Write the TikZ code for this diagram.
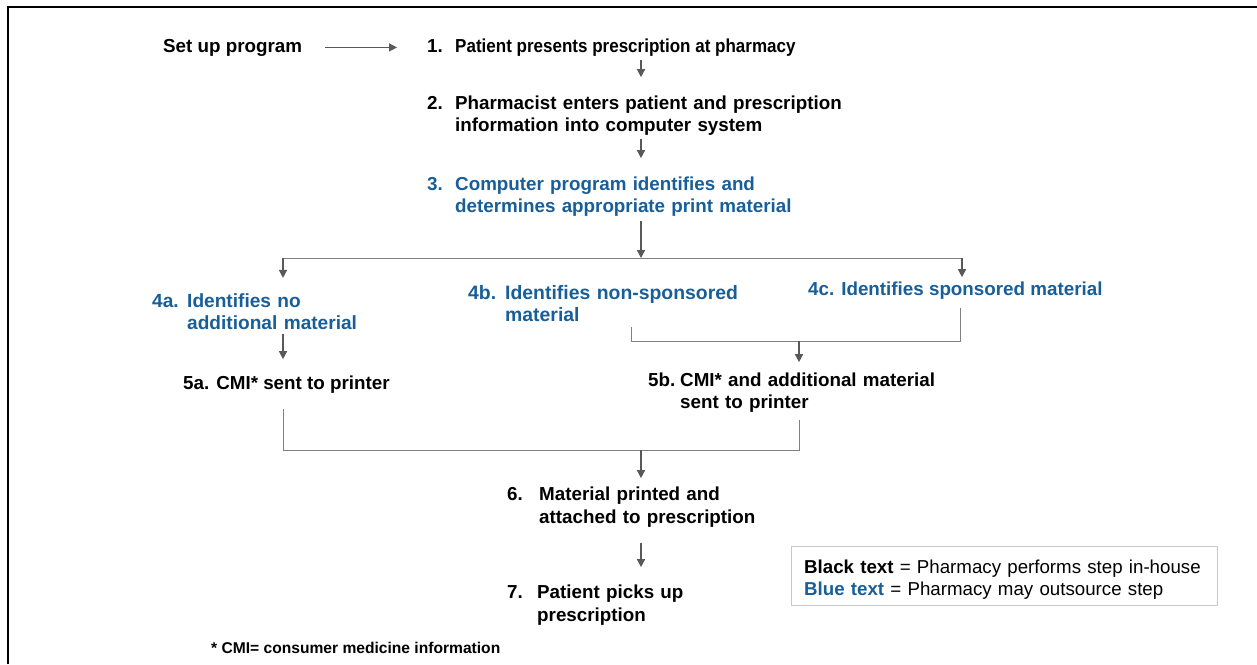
\documentclass[tikz,border=0pt]{standalone}
\usepackage{fontspec}
\setmainfont{Liberation Sans}
\usetikzlibrary{arrows.meta,calc}
\definecolor{stepblue}{RGB}{24,94,152}
\definecolor{arrgray}{RGB}{89,89,89}
\definecolor{linegray}{RGB}{128,128,128}
\definecolor{boxgray}{RGB}{200,200,200}
\begin{document}
\begin{tikzpicture}[x=1pt,y=1pt,
  txt/.style={inner sep=0pt, anchor=base west, font=\fontsize{18.8}{22}\selectfont\bfseries},
  blk/.style={txt, text=black},
  blu/.style={txt, text=stepblue},
  para/.style={text width=#1, align=left},
  arr/.style={draw=arrgray, line width=1.4pt, -{Triangle[length=8pt,width=8pt]}},
  brk/.style={draw=linegray, line width=1pt},
]
\useasboundingbox (0,0) rectangle (1257,-664);
% frame
\draw[line width=2pt] (8,-664) -- (8,-7) -- (1257,-7);

\coordinate (spine) at (641,0);

\node[blk] (setup) at (163,-52) {Set up program};
\node[blk] (n1num) at (427,-52) {1.};
\node[blk] (n1) at (455,-52) {\scalebox{0.905}[1]{Patient presents prescription at pharmacy}};

\node[blk] (n2num) at (427,-109) {2.};
\node[blk,para=440pt] (n2) at (455,-109) {Pharmacist enters patient and prescription\\information into computer system};

\node[blu] (n3num) at (427,-190) {3.};
\node[blu,para=380pt] (n3) at (455,-190) {Computer program identifies and\\determines appropriate print material};

\node[blu,font=\fontsize{19.1}{22}\selectfont\bfseries] (n4anum) at (152,-307) {4a.};
\node[blu,para=220pt,font=\fontsize{19.1}{22}\selectfont\bfseries] (n4a) at (187,-307) {Identifies no\\additional material};

\node[blu,font=\fontsize{19.4}{22}\selectfont\bfseries] (n4bnum) at (468,-299) {4b.};
\node[blu,para=280pt,font=\fontsize{19.4}{22}\selectfont\bfseries] (n4b) at (505,-299) {Identifies non-sponsored\\material};

\node[blu] (n4c) at (808,-295) {4c. Identifies sponsored material};

\node[blk] (n5a) at (183,-389) {5a. CMI* sent to printer};

\node[blk] (n5bnum) at (648,-386) {5b.};
\node[blk,para=300pt] (n5b) at (680,-386) {CMI* and additional material\\sent to printer};

\node[blk] (n6num) at (507,-500) {6.};
\node[blk,para=260pt,font=\fontsize{18.8}{23}\selectfont\bfseries] (n6) at (539,-500) {Material printed and\\attached to prescription};

\node[blk] (n7num) at (507,-598) {7.};
\node[blk,para=180pt,font=\fontsize{18.8}{23}\selectfont\bfseries] (n7) at (537,-598) {Patient picks up\\prescription};

\node[inner sep=0pt, anchor=base west, font=\fontsize{15.6}{18}\selectfont\bfseries] (foot) at (211,-653) {* CMI= consumer medicine information};

\node[draw=boxgray, line width=1pt, anchor=north west, minimum width=426pt, minimum height=59pt, inner sep=0pt] (legend) at (791,-546) {};
\node[inner sep=0pt, anchor=base west, text width=410pt, align=left, font=\fontsize{18.7}{22}\selectfont] (legtxt) at (804,-573) {\textbf{Black text} = Pharmacy performs step in-house\\\textcolor{stepblue}{\textbf{Blue text}} = Pharmacy may outsource step};

% connectors
\draw[arr] ([xshift=23pt]setup.east) -- ([xshift=-30pt]setup.east -| n1num.west);
\draw[arr] ([yshift=-4pt]n1.south -| spine) -- ([yshift=18pt]n2.north -| spine);
\draw[arr] ([yshift=-4pt]n2.south -| spine) -- ([yshift=18pt]n3.north -| spine);

\coordinate (b1L) at (283,-258);
\coordinate (b1R) at (962,-258);
\draw[arr] ([yshift=-5pt]n3.south -| spine) -- (b1L -| spine);
\draw[brk] (b1L) -- (b1R);
\draw[arr] (b1L) -- ([yshift=15pt]n4a.north -| b1L);
\draw[arr] (b1R) -- ([yshift=4pt]n4c.north -| b1R);

\draw[arr] ([yshift=-5pt]n4a.south -| b1L) -- ([yshift=16pt]n5a.north -| b1L);

\coordinate (b2L) at (631,-341);
\coordinate (b2R) at (960,-341);
\coordinate (b2M) at (799,-341);
\draw[brk] ([yshift=-6pt]n4b.south -| b2L) -- (b2L) -- (b2R) -- ([yshift=-9pt]n4c.south -| b2R);
\draw[arr] (b2M) -- ([yshift=10pt]n5b.north -| b2M);

\coordinate (b3L) at (283,-450);
\coordinate (b3R) at (799,-450);
\draw[brk] ([yshift=-16pt]n5a.south -| b3L) -- (b3L) -- (b3R) -- ([yshift=-8pt]n5b.south -| b3R);
\draw[arr] (b3L -| spine) -- ([yshift=8pt]n6.north -| spine);
\draw[arr] ([yshift=-16pt]n6.south -| spine) -- ([yshift=17pt]n7.north -| spine);
\end{tikzpicture}
\end{document}
